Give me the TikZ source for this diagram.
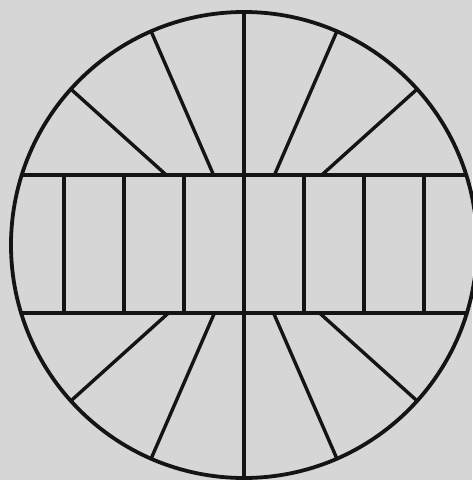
\documentclass[tikz,border=0pt]{standalone}
\usetikzlibrary{calc}
\definecolor{paper}{RGB}{214,214,214}
\definecolor{ink}{RGB}{20,20,20}
\tikzset{stroke/.style={draw=ink,line width=3.4pt,line cap=round,line join=round}}
\begin{document}
\begin{tikzpicture}[x=1pt,y=1pt]
\fill[paper] (0,0) rectangle (472,480);
\useasboundingbox (0,0) rectangle (472,480);
\coordinate (c) at (244,235);
\draw[stroke,line width=3.8pt] (c) circle (233);
% band lines
\path (c) ++(0,70) coordinate (tm) (c) ++(0,-68) coordinate (bm);
\draw[stroke] ($(tm)+(-222,0)$) -- ($(tm)+(222,0)$);
\draw[stroke] ($(bm)+(-223,0)$) -- ($(bm)+(223,0)$);
% central vertical
\draw[stroke] ($(c)+(0,233)$) -- ($(c)+(0,-233)$);
% band verticals
\foreach \k in {-180,-120,-60,60,120,180}
  \draw[stroke] ($(tm)+(\k,0)$) -- ($(bm)+(\k,0)$);
% upper spokes
\foreach \a in {42,66.5,113.5,138}
  \draw[stroke] ($(c)+(\a:233)$) -- ($(c)+(\a:{70/sin(\a)})$);
% lower spokes
\foreach \a in {42,66.5,113.5,138}
  \draw[stroke] ($(c)+(-\a:233)$) -- ($(c)+(-\a:{68/sin(\a)})$);
\end{tikzpicture}
\end{document}
